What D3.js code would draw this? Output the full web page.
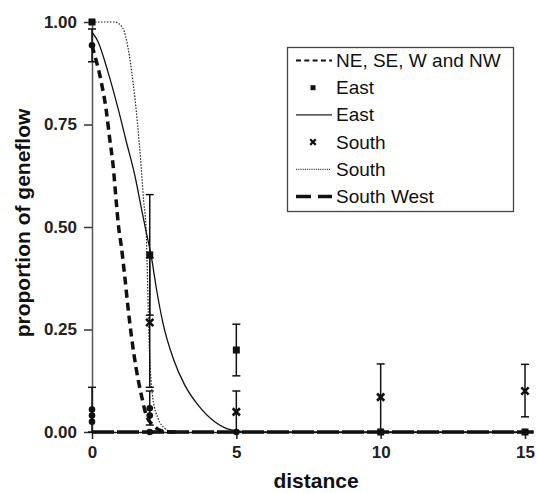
<!DOCTYPE html>
<html>
<head>
<meta charset="utf-8">
<script src="https://cdn.jsdelivr.net/npm/d3@7"></script>
<style>
  body { margin: 0; background: #fff; }
  svg { display: block; font-family: "Liberation Sans", Arial, sans-serif; }
</style>
</head>
<body>
<svg id="chart" width="537" height="493"></svg>
<script>
// tick values
const xTicks = [0, 5, 10, 15];
const yTicks = [0, 0.25, 0.5, 0.75, 1.0];

// East observations (squares)
const eastX  = [0, 2, 5, 10, 15];
const eastY  = [1.00, 0.432, 0.200, 0, 0];
const eastLo = [1.00, 0.285, 0.137, 0, 0];
const eastHi = [1.00, 0.579, 0.263, 0, 0];

// South observations (crosses)
const southX  = [2, 5, 10, 15];
const southY  = [0.267, 0.049, 0.085, 0.100];
const southLo = [0.109, 0, 0, 0.037];
const southHi = [0.425, 0.100, 0.166, 0.165];

// other directions (dots)
const otherX  = [0, 0, 0, 0, 2, 2, 2, 5, 10, 15];
const otherY  = [0.943, 0.055, 0.040, 0.025, 0.058, 0.040, 0, 0, 0, 0];
const otherLo = [0.903, 0, 0.040, 0.025, 0.017, 0.040, 0, 0, 0, 0];
const otherHi = [0.983, 0.109, 0.040, 0.025, 0.100, 0.040, 0, 0, 0, 0];

// fitted curves
const nwCurveX = [0, 0.11, 0.32, 0.50, 0.61, 0.73, 0.84, 0.92, 1.01, 1.13, 1.25, 1.36, 1.53, 1.71, 1.88, 2.11, 2.34, 2.56, 3.0];
const nwCurveY = [0.943, 0.915, 0.854, 0.781, 0.717, 0.651, 0.562, 0.501, 0.456, 0.383, 0.302, 0.237, 0.155, 0.090, 0.041, 0.017, 0.005, 0.001, 0];

const eastCurveX = [0, 0.21, 0.55, 0.90, 1.19, 1.48, 1.71, 1.85, 2.05, 2.23, 2.46, 2.81, 3.21, 3.67, 4.25, 4.83, 5.5, 15.3];
const eastCurveY = [0.975, 0.952, 0.879, 0.790, 0.708, 0.627, 0.546, 0.497, 0.430, 0.350, 0.265, 0.180, 0.115, 0.066, 0.025, 0.005, 0, 0];

const southCurveX = [0, 0.79, 1.07, 1.25, 1.42, 1.57, 1.69, 1.79, 1.87, 1.92, 1.96, 2.02, 2.11, 2.29, 2.52, 2.75, 3.2];
const southCurveY = [1.0, 1.0, 0.985, 0.936, 0.854, 0.757, 0.659, 0.562, 0.500, 0.383, 0.261, 0.155, 0.082, 0.033, 0.009, 0.001, 0];

const swCurveX = [0, 15.3];
const swCurveY = [0, 0];

const legendLabels = ['NE, SE, W and NW', 'East', 'East', 'South', 'South', 'South West'];

const svg = d3.select('#chart');
const x = d3.scaleLinear().domain([0, 15]).range([92, 525]);
const y = d3.scaleLinear().domain([0, 1]).range([432, 22]);

// axes
const yAxis = svg.append('g')
    .attr('transform', `translate(${x(0)},0)`)
    .call(d3.axisLeft(y).tickValues(yTicks).tickFormat(d3.format('.2f')).tickSize(8).tickSizeOuter(0));
yAxis.select('.domain').attr('stroke', '#555').attr('stroke-width', 1.5);
yAxis.selectAll('.tick line').attr('stroke', '#333').attr('stroke-width', 1.5);
yAxis.selectAll('.tick text')
    .attr('x', -15)
    .attr('font-size', 17).attr('font-weight', 'bold').attr('fill', '#222')
    .attr('font-family', '"Liberation Sans", Arial, sans-serif');

const xAxis = svg.append('g')
    .attr('transform', `translate(0,${y(0)})`)
    .call(d3.axisBottom(x).tickValues(xTicks).tickSize(7).tickSizeOuter(0));
xAxis.select('.domain').attr('stroke', '#222').attr('stroke-width', 1.5);
xAxis.selectAll('.tick line').attr('stroke', '#222').attr('stroke-width', 1.5);
xAxis.selectAll('.tick text')
    .attr('y', 14)
    .attr('font-size', 17).attr('font-weight', 'bold').attr('fill', '#222')
    .attr('font-family', '"Liberation Sans", Arial, sans-serif');

// axis titles
svg.append('text')
    .attr('x', 316).attr('y', 488)
    .attr('text-anchor', 'middle')
    .attr('font-size', 21).attr('font-weight', 'bold').attr('fill', '#111')
    .text('distance');
svg.append('text')
    .attr('transform', 'translate(30,223) rotate(-90)')
    .attr('text-anchor', 'middle')
    .attr('font-size', 21).attr('font-weight', 'bold').attr('fill', '#111')
    .text('proportion of geneflow');

// curves
const line = d3.line().x(d => x(d[0])).y(d => y(d[1])).curve(d3.curveMonotoneX);
const zip = (a, b) => a.map((v, i) => [v, b[i]]);

svg.append('path').datum(zip(swCurveX, swCurveY))
    .attr('d', line).attr('fill', 'none')
    .attr('stroke', '#111').attr('stroke-width', 3.5).attr('stroke-dasharray', '22,3');
svg.append('path').datum(zip(southCurveX, southCurveY))
    .attr('d', line).attr('fill', 'none')
    .attr('stroke', '#222').attr('stroke-width', 1.2).attr('stroke-dasharray', '1.5,1.5');
svg.append('path').datum(zip(eastCurveX, eastCurveY))
    .attr('d', line).attr('fill', 'none')
    .attr('stroke', '#111').attr('stroke-width', 1.3);
svg.append('path').datum(zip(nwCurveX, nwCurveY))
    .attr('d', line).attr('fill', 'none')
    .attr('stroke', '#111').attr('stroke-width', 3.5).attr('stroke-dasharray', '8,5');

// error bars
function errorBars(xs, lo, hi) {
    const g = svg.append('g').attr('stroke', '#111').attr('stroke-width', 1.5);
    xs.forEach((xv, i) => {
        if (hi[i] - lo[i] < 0.001) return;
        g.append('line').attr('x1', x(xv)).attr('x2', x(xv)).attr('y1', y(lo[i])).attr('y2', y(hi[i]));
        [lo[i], hi[i]].forEach(v => {
            g.append('line').attr('x1', x(xv) - 4).attr('x2', x(xv) + 4).attr('y1', y(v)).attr('y2', y(v));
        });
    });
}
errorBars(eastX, eastLo, eastHi);
errorBars(southX, southLo, southHi);
errorBars(otherX, otherLo, otherHi);

// markers
svg.append('g').selectAll('circle')
    .data(zip(otherX, otherY)).enter().append('circle')
    .attr('cx', d => x(d[0])).attr('cy', d => y(d[1])).attr('r', 3.3).attr('fill', '#111');
svg.append('g').selectAll('rect')
    .data(zip(eastX, eastY)).enter().append('rect')
    .attr('x', d => x(d[0]) - 3.5).attr('y', d => y(d[1]) - 3.5)
    .attr('width', 7).attr('height', 7).attr('fill', '#111');
const cross = d3.symbol().type(d3.symbolX).size(36);
svg.append('g').selectAll('path')
    .data(zip(southX, southY)).enter().append('path')
    .attr('transform', d => `translate(${x(d[0])},${y(d[1])})`)
    .attr('d', cross).attr('stroke', '#111').attr('stroke-width', 2.6).attr('fill', 'none');

// legend
const lg = svg.append('g');
lg.append('rect').attr('x', 287.5).attr('y', 47.5).attr('width', 226).attr('height', 164)
    .attr('fill', '#fff').attr('stroke', '#444').attr('stroke-width', 1.3);
const rowY = i => 60.5 + i * 27.2;
const x0 = 296, x1 = 332;
lg.append('line').attr('x1', x0).attr('x2', x1).attr('y1', rowY(0)).attr('y2', rowY(0))
    .attr('stroke', '#111').attr('stroke-width', 2.2).attr('stroke-dasharray', '5,3.3');
lg.append('rect').attr('x', 310.5).attr('y', rowY(1) - 2.5).attr('width', 5).attr('height', 5).attr('fill', '#111');
lg.append('line').attr('x1', x0).attr('x2', x1).attr('y1', rowY(2)).attr('y2', rowY(2))
    .attr('stroke', '#222').attr('stroke-width', 1.2);
lg.append('path').attr('transform', `translate(313,${rowY(3)})`)
    .attr('d', d3.symbol().type(d3.symbolX).size(22)).attr('stroke', '#111').attr('stroke-width', 2.2).attr('fill', 'none');
lg.append('line').attr('x1', x0).attr('x2', x1 - 2).attr('y1', rowY(4)).attr('y2', rowY(4))
    .attr('stroke', '#222').attr('stroke-width', 1).attr('stroke-dasharray', '1.2,1');
lg.append('line').attr('x1', x0).attr('x2', x1).attr('y1', rowY(5)).attr('y2', rowY(5))
    .attr('stroke', '#111').attr('stroke-width', 3.5).attr('stroke-dasharray', '15,7');
lg.selectAll('text.lab').data(legendLabels).enter().append('text')
    .attr('class', 'lab')
    .attr('x', 336).attr('y', (d, i) => rowY(i) + 6.5)
    .attr('font-size', 19).attr('fill', '#111')
    .text(d => d);
</script>
</body>
</html>
